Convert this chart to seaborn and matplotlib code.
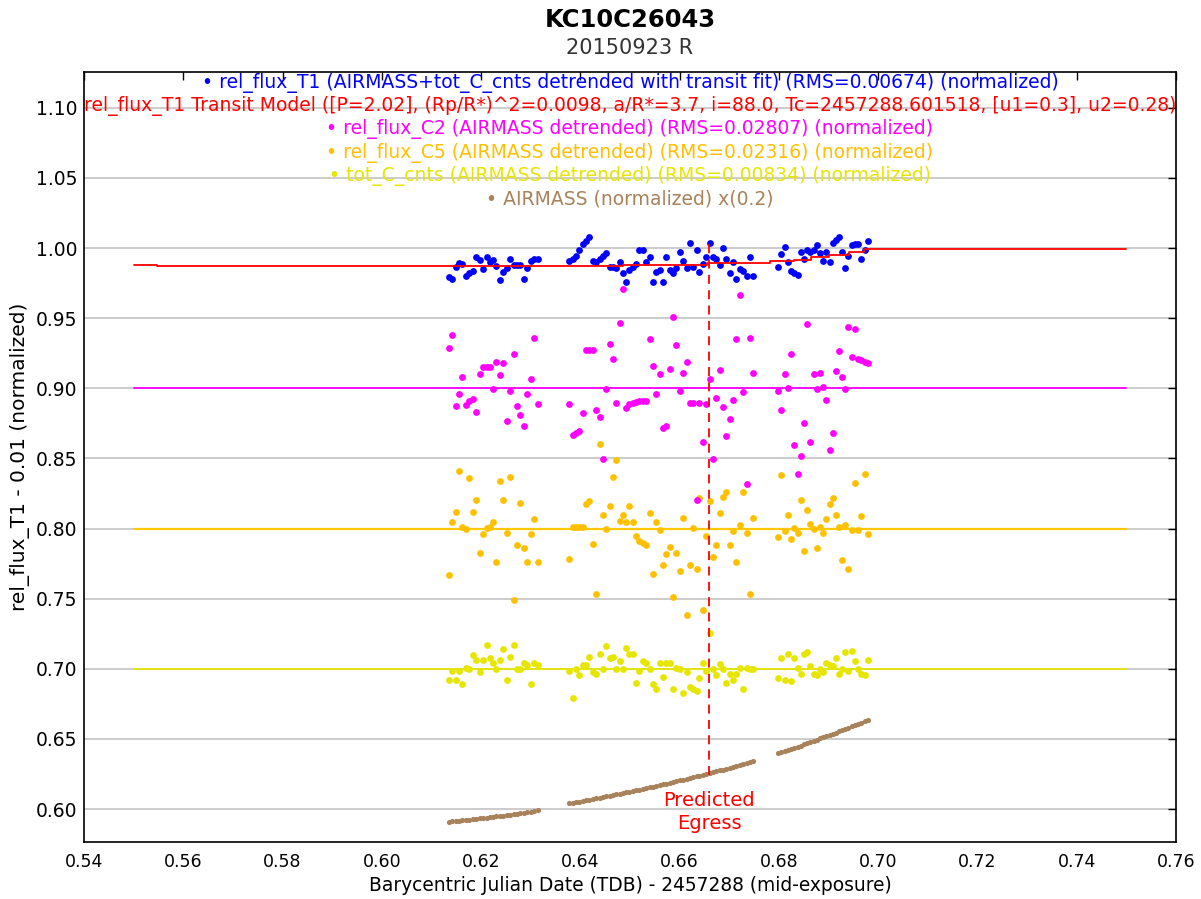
import matplotlib
matplotlib.use("Agg")
import matplotlib.pyplot as plt
import seaborn as sns
import numpy as np

# time axis (BJD_TDB - 2457288), three observing blocks
bjd = [
    0.6135, 0.6142, 0.6149, 0.6156, 0.6162, 0.6169, 0.6176, 0.6183, 0.6190, 0.6197,
    0.6204, 0.6211, 0.6217, 0.6224, 0.6231, 0.6238, 0.6245, 0.6252, 0.6259, 0.6266,
    0.6273, 0.6279, 0.6286, 0.6293, 0.6300, 0.6307, 0.6314,
    0.6378, 0.6385, 0.6391, 0.6398, 0.6405, 0.6412, 0.6418, 0.6425, 0.6432, 0.6439,
    0.6445, 0.6452, 0.6459, 0.6465, 0.6472, 0.6479, 0.6486, 0.6492, 0.6499, 0.6506,
    0.6513, 0.6519, 0.6526, 0.6533, 0.6540, 0.6546, 0.6553, 0.6560, 0.6566, 0.6573,
    0.6580, 0.6587, 0.6593, 0.6600, 0.6607, 0.6614, 0.6620, 0.6627, 0.6634, 0.6640,
    0.6647, 0.6654, 0.6661, 0.6667, 0.6674, 0.6681, 0.6688, 0.6694, 0.6701, 0.6708,
    0.6714, 0.6721, 0.6728, 0.6735, 0.6741, 0.6748,
    0.6799, 0.6805, 0.6812, 0.6818, 0.6825, 0.6831, 0.6838, 0.6844, 0.6850, 0.6857,
    0.6863, 0.6870, 0.6876, 0.6883, 0.6889, 0.6895, 0.6902, 0.6908, 0.6915, 0.6921,
    0.6928, 0.6934, 0.6940, 0.6947, 0.6953, 0.6960, 0.6966, 0.6973, 0.6979,
]

rel_flux_t1 = [
    0.9791, 0.9777, 0.9867, 0.9891, 0.9884, 0.9800, 0.9824, 0.9838, 0.9933, 0.9914,
    0.9848, 0.9933, 0.9903, 0.9914, 0.9872, 0.9772, 0.9831, 0.9855, 0.9921, 0.9879,
    0.9879, 0.9879, 0.9781, 0.9855, 0.9910, 0.9924, 0.9924,
    0.9910, 0.9919, 0.9943, 0.9986, 1.0029, 1.0052, 1.0076, 0.9910, 0.9903, 0.9919,
    0.9943, 0.9962, 0.9867, 0.9867, 0.9855, 0.9900, 0.9824, 0.9760, 0.9843, 0.9867,
    0.9884, 0.9986, 0.9986, 0.9900, 0.9933, 0.9760, 0.9831, 0.9843, 0.9760, 0.9933,
    0.9843, 0.9824, 0.9855, 0.9974, 0.9910, 0.9855, 1.0038, 0.9867, 0.9986, 0.9831,
    0.9884, 0.9933, 1.0038, 0.9933, 0.9919, 0.9879, 0.9998, 0.9919, 0.9824, 0.9900,
    0.9781, 0.9848, 0.9838, 0.9800, 0.9933, 0.9800,
    0.9867, 0.9955, 1.0009, 0.9900, 0.9838, 0.9819, 0.9807, 0.9974, 0.9919, 0.9986,
    0.9974, 0.9986, 1.0019, 0.9962, 0.9910, 0.9974, 0.9900, 1.0038, 1.0057, 1.0076,
    0.9974, 0.9855, 0.9943, 1.0019, 1.0029, 1.0029, 0.9919, 0.9986, 1.0052,
]

rel_flux_c2 = [
    0.9285, 0.9382, 0.8873, 0.8961, 0.9080, 0.8883, 0.8907, 0.8921, 0.8831, 0.9102,
    0.9154, 0.9154, 0.9154, 0.8995, 0.9187, 0.9092, 0.9178, 0.8766, 0.8983, 0.9242,
    0.8873, 0.8809, 0.8733, 0.8961, 0.9068, 0.9361, 0.8885,
    0.8885, 0.8667, 0.8679, 0.8693, 0.8821, 0.9273, 0.9273, 0.9273, 0.8845, 0.8797,
    0.8496, 0.8995, 0.9318, 0.9209, 0.8897, 0.9468, 0.9706, 0.8862, 0.8885, 0.8897,
    0.8904, 0.8907, 0.8907, 0.8907, 0.9349, 0.9156, 0.8961, 0.9102, 0.8717, 0.8733,
    0.9135, 0.9510, 0.9306, 0.8983, 0.9111, 0.9187, 0.8897, 0.8897, 0.8203, 0.8897,
    0.8614, 0.8885, 0.9068, 0.8496, 0.8928, 0.9132, 0.8864, 0.8659, 0.8778, 0.8916,
    0.9349, 0.9663, 0.8971, 0.8315, 0.9361, 0.9111,
    0.8983, 0.8845, 0.9102, 0.9005, 0.9242, 0.8595, 0.8389, 0.8519, 0.8754, 0.9458,
    0.8614, 0.9102, 0.8992, 0.9111, 0.9010, 0.8918, 0.8562, 0.8681, 0.9123, 0.9263,
    0.9080, 0.8998, 0.9437, 0.9220, 0.9425, 0.9209, 0.9199, 0.9187, 0.9178,
]

rel_flux_c5 = [
    0.7666, 0.8044, 0.8120, 0.8410, 0.8013, 0.7995, 0.8358, 0.8120, 0.8206, 0.7828,
    0.7958, 0.8003, 0.8013, 0.8044, 0.7764, 0.8336, 0.8206, 0.7970, 0.8367, 0.7493,
    0.7882, 0.8184, 0.7861, 0.7764, 0.7958, 0.8065, 0.7764,
    0.7785, 0.8013, 0.8013, 0.8013, 0.8013, 0.8175, 0.8196, 0.7892, 0.7535, 0.8605,
    0.8099, 0.8000, 0.8163, 0.8367, 0.8486, 0.8056, 0.8099, 0.8044, 0.8163, 0.8044,
    0.7947, 0.7913, 0.7894, 0.7882, 0.8108, 0.7676, 0.8044, 0.7990, 0.7742, 0.7818,
    0.7871, 0.7514, 0.7828, 0.7697, 0.8077, 0.7386, 0.7742, 0.8005, 0.7709, 0.8218,
    0.7417, 0.7947, 0.8196, 0.7794, 0.7882, 0.8108, 0.8227, 0.8260, 0.7882, 0.7985,
    0.7764, 0.8022, 0.8260, 0.7968, 0.7535, 0.8077,
    0.7937, 0.8379, 0.7980, 0.8099, 0.7925, 0.8002, 0.7968, 0.8206, 0.7840, 0.8132,
    0.8034, 0.7995, 0.7861, 0.8013, 0.7968, 0.8065, 0.8175, 0.8218, 0.8099, 0.8008,
    0.7773, 0.8022, 0.7709, 0.7989, 0.8325, 0.7992, 0.8087, 0.8389, 0.7958,
]

tot_c_cnts = [
    0.6920, 0.6986, 0.6920, 0.6986, 0.6889, 0.7005, 0.6998, 0.7096, 0.7062, 0.6974,
    0.7062, 0.7169, 0.7074, 0.7041, 0.6995, 0.7062, 0.7139, 0.6922, 0.7083, 0.7169,
    0.6998, 0.6998, 0.7041, 0.7029, 0.6889, 0.7041, 0.7029,
    0.6986, 0.6791, 0.6998, 0.6953, 0.7029, 0.7029, 0.7086, 0.6974, 0.6964, 0.7105,
    0.6998, 0.7160, 0.7074, 0.7086, 0.7002, 0.7053, 0.6998, 0.7148, 0.7105, 0.7105,
    0.6901, 0.6986, 0.7053, 0.7041, 0.6996, 0.6889, 0.6858, 0.7041, 0.6944, 0.7041,
    0.7041, 0.6858, 0.7003, 0.6998, 0.6825, 0.6974, 0.6868, 0.6858, 0.6844, 0.6932,
    0.7041, 0.6986, 0.7257, 0.6998, 0.6955, 0.7031, 0.6997, 0.6901, 0.6964, 0.6922,
    0.6964, 0.7004, 0.6858, 0.7008, 0.6998, 0.7001,
    0.6932, 0.7074, 0.6920, 0.7105, 0.6910, 0.7074, 0.7003, 0.6964, 0.7105, 0.7117,
    0.7020, 0.6964, 0.6953, 0.6998, 0.6974, 0.7041, 0.7029, 0.7020, 0.7074, 0.6964,
    0.7002, 0.7117, 0.6986, 0.7127, 0.7053, 0.6997, 0.6964, 0.6953, 0.7062,
]

airmass = [
    0.5910, 0.5912, 0.5914, 0.5917, 0.5919, 0.5922, 0.5925, 0.5927, 0.5930, 0.5933,
    0.5935, 0.5938, 0.5941, 0.5944, 0.5947, 0.5950, 0.5953, 0.5956, 0.5960, 0.5963,
    0.5966, 0.5970, 0.5973, 0.5977, 0.5981, 0.5985, 0.5990,
    0.6040, 0.6044, 0.6049, 0.6053, 0.6057, 0.6062, 0.6066, 0.6071, 0.6076, 0.6080,
    0.6085, 0.6090, 0.6094, 0.6099, 0.6104, 0.6109, 0.6114, 0.6119, 0.6124, 0.6129,
    0.6134, 0.6139, 0.6144, 0.6150, 0.6155, 0.6160, 0.6165, 0.6171, 0.6176, 0.6182,
    0.6187, 0.6193, 0.6198, 0.6204, 0.6210, 0.6216, 0.6221, 0.6227, 0.6233, 0.6239,
    0.6245, 0.6251, 0.6257, 0.6263, 0.6269, 0.6275, 0.6281, 0.6288, 0.6294, 0.6300,
    0.6307, 0.6313, 0.6319, 0.6326, 0.6332, 0.6339,
    0.6397, 0.6405, 0.6413, 0.6421, 0.6429, 0.6437, 0.6445, 0.6453, 0.6461, 0.6469,
    0.6477, 0.6486, 0.6494, 0.6503, 0.6511, 0.6520, 0.6528, 0.6537, 0.6545, 0.6554,
    0.6563, 0.6572, 0.6581, 0.6590, 0.6599, 0.6608, 0.6617, 0.6626, 0.6635,
]

# transit model (stepped curve) for rel_flux_T1
model_x = [0.5500, 0.5547, 0.6486, 0.6655, 0.6782, 0.6830, 0.6864, 0.6901, 0.6941, 0.6971, 0.7500]
model_y = [0.9880, 0.9872, 0.9880, 0.9890, 0.9905, 0.9918, 0.9935, 0.9952, 0.9975, 0.9990, 0.9990]

# flat detrended-comparison levels
fit_x = [0.55, 0.75]
c2_level = 0.900
c5_level = 0.7994
tot_level = 0.700

egress_x = 0.666
egress_span = [0.6245, 1.0057]

legend_rows = [
    ("\u2022 rel_flux_T1 (AIRMASS+tot_C_cnts detrended with transit fit) (RMS=0.00674) (normalized)", "#0000ff"),
    ("rel_flux_T1 Transit Model ([P=2.02], (Rp/R*)^2=0.0098, a/R*=3.7, i=88.0, Tc=2457288.601518, [u1=0.3], u2=0.28)", "#ff0000"),
    ("\u2022 rel_flux_C2 (AIRMASS detrended) (RMS=0.02807) (normalized)", "#ff00ff"),
    ("\u2022 rel_flux_C5 (AIRMASS detrended) (RMS=0.02316) (normalized)", "#ffc000"),
    ("\u2022 tot_C_cnts (AIRMASS detrended) (RMS=0.00834) (normalized)", "#e6e600"),
    ("\u2022 AIRMASS (normalized) x(0.2)", "#a8825a"),
]

sns.set_style("white")
plt.rcParams['font.family'] = ['DejaVu Sans']

fig = plt.figure(figsize=(12.01, 8.99), dpi=100)
ax = fig.add_axes([0.0699, 0.0634, 0.9093, 0.8565])

# fitted / flat lines
sns.lineplot(x=fit_x, y=[c2_level, c2_level], color="#ff00ff", lw=1.3, ax=ax)
sns.lineplot(x=fit_x, y=[c5_level, c5_level], color="#ffc800", lw=1.6, ax=ax)
sns.lineplot(x=fit_x, y=[tot_level, tot_level], color="#e6e600", lw=1.3, ax=ax)

# data points
sns.scatterplot(x=bjd, y=airmass, color="#a8825a", s=14, linewidth=0, ax=ax, zorder=3)
sns.scatterplot(x=bjd, y=tot_c_cnts, color="#e6e600", s=24, linewidth=0, ax=ax, zorder=3)
sns.scatterplot(x=bjd, y=rel_flux_c5, color="#ffc000", s=24, linewidth=0, ax=ax, zorder=3)
sns.scatterplot(x=bjd, y=rel_flux_c2, color="#ff00ff", s=24, linewidth=0, ax=ax, zorder=3)
sns.scatterplot(x=bjd, y=rel_flux_t1, color="#0000ff", s=24, linewidth=0, ax=ax, zorder=3)

# transit model
sns.lineplot(x=model_x, y=model_y, color="#ff0000", lw=1.3, drawstyle="steps-post",
             sort=False, ax=ax, zorder=4)

# predicted egress marker
ax.vlines(egress_x, egress_span[0], egress_span[1], colors="#ff0000", lw=1.3,
          linestyles=(0, (5, 3.5)), zorder=5)
ax.text(egress_x, 0.6064, "Predicted", color="#ff0000", fontsize=14, ha="center", va="center")
ax.text(egress_x, 0.5900, "Egress", color="#ff0000", fontsize=14, ha="center", va="center")

# axes
ax.set_xlim(0.54, 0.76)
ax.set_ylim(0.5765, 1.1255)
ax.set_xticks(np.round(np.arange(0.54, 0.7601, 0.02), 2))
ax.set_yticks(np.round(np.arange(0.60, 1.1001, 0.05), 2))
ax.xaxis.set_major_formatter(matplotlib.ticker.FormatStrFormatter("%.2f"))
ax.yaxis.set_major_formatter(matplotlib.ticker.FormatStrFormatter("%.2f"))
ax.tick_params(axis="x", direction="in", top=True, length=6, width=1, labelsize=12.5,
               pad=8, colors="black")
ax.tick_params(axis="y", direction="in", right=True, length=6, width=1, labelsize=13.5,
               pad=5, colors="black")
ax.yaxis.grid(True, color="#c8c8c8", lw=1.3)
ax.xaxis.grid(False)
ax.set_axisbelow(True)
for sp in ax.spines.values():
    sp.set_color("black")
    sp.set_linewidth(1.2)

ax.set_xlabel("Barycentric Julian Date (TDB) - 2457288 (mid-exposure)", fontsize=13.4, color="black")
ax.xaxis.set_label_coords(0.5, -0.057)
ax.xaxis.label.set_va("center")
ax.set_ylabel("rel_flux_T1 - 0.01 (normalized)", fontsize=14.5, color="black")
ax.yaxis.set_label_coords(-0.0586, 0.5)
ax.yaxis.label.set_va("center")

# legend rows drawn as coloured text at the top of the plot
rows_y = [0.9857, 0.9558, 0.9260, 0.8948, 0.8649, 0.8351]
for (label, col), yy in zip(legend_rows, rows_y):
    ax.text(0.5, yy, label, color=col, fontsize=13.5, ha="center", va="center",
            transform=ax.transAxes, zorder=6)

fig.text(0.5246, 0.9778, "KC10C26043", fontsize=17.5, fontweight="bold", ha="center",
         va="center", color="black")
fig.text(0.5246, 0.9466, "20150923 R", fontsize=15, ha="center", va="center", color="#333333")

fig.savefig("out.png", dpi=100)
